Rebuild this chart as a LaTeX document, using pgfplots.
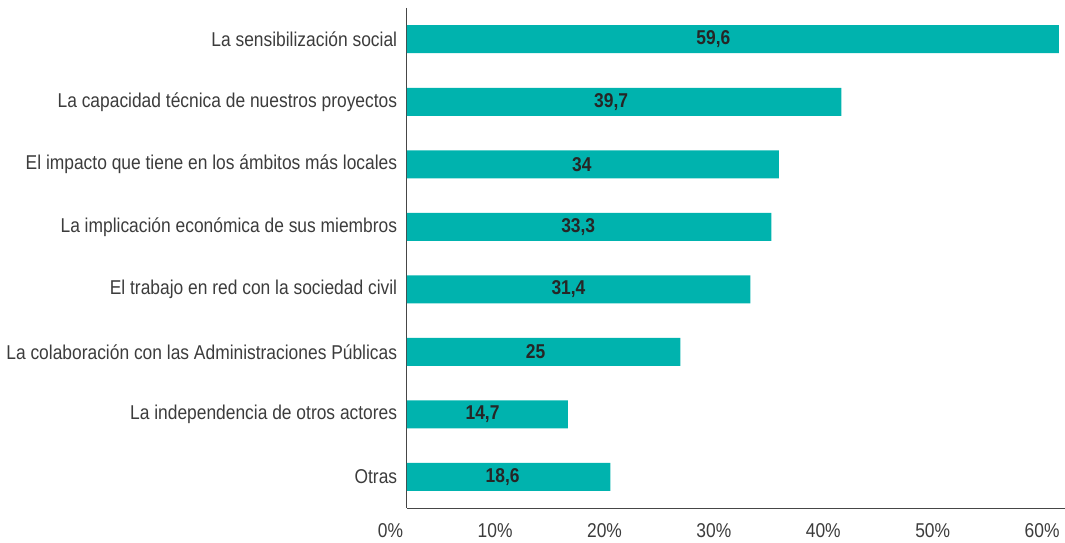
\documentclass[border=0pt]{standalone}
\usepackage{fontspec}
\setmainfont{Liberation Sans}[FakeStretch=0.87]
\usepackage{pgfplots}
\pgfplotsset{compat=1.18}
\usepackage{pgfplotstable}
\definecolor{barc}{RGB}{0,179,174}
\definecolor{txt}{RGB}{60,60,60}
\definecolor{axc}{RGB}{70,70,70}

\pgfplotstableread{
pos val
0 59.6
1 39.7
2 34
3 33.3
4 31.4
5 25
6 14.7
7 18.6
}\datos

\begin{document}
\fontsize{20}{24}\selectfont
\begin{tikzpicture}
\begin{axis}[
  scale only axis,
  width=658pt, height=500pt,
  xbar, bar width=28pt,
  xmin=0, xmax=60.15,
  ymin=-0.5, ymax=7.5,
  y dir=reverse,
  axis lines*=left,
  axis line style={axc, line width=1pt},
  major tick length=0pt,
  xtick={0,10,20,30,40,50,60},
  xticklabel={\pgfmathprintnumber{\tick}\%},
  xticklabel style={anchor=north east, text=txt, yshift=-9pt, xshift=3pt},
  ytick={0,...,7},
  yticklabels={La sensibilización social,
    La capacidad técnica de nuestros proyectos,
    El impacto que tiene en los ámbitos más locales,
    La implicación económica de sus miembros,
    El trabajo en red con la sociedad civil,
    La colaboración con las Administraciones Públicas,
    La independencia de otros actores,
    Otras},
  yticklabel style={text=txt, xshift=-3pt},
  /pgf/number format/assume math mode=true,
  /pgf/number format/use comma,
  visualization depends on={x \as \rawx},
  nodes near coords,
  every node near coord/.append style={anchor=center, font=\bfseries, text=black!85,
    shift={(axis direction cs:-0.53*\rawx,0)}},
]
\addplot[fill=barc, draw=none] table[x=val, y=pos] {\datos};
\end{axis}
\pgfresetboundingbox
\path[use as bounding box] ([xshift=-407pt,yshift=-35pt]current axis.south west)
  rectangle ([yshift=8pt]current axis.north east);
\end{tikzpicture}
\end{document}
